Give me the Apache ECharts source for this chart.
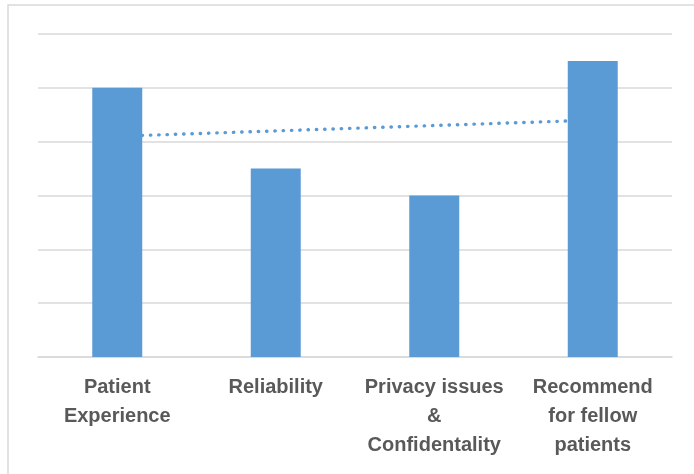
<!DOCTYPE html>
<html>
<head>
<meta charset="utf-8">
<script src="https://cdn.jsdelivr.net/npm/echarts@6/dist/echarts.min.js"></script>
<style>
html,body{margin:0;padding:0;background:#fff;}
#chart{width:694px;height:474px;}
</style>
</head>
<body>
<div id="chart"></div>
<script>
var categories = ['Patient\nExperience', 'Reliability', 'Privacy issues\n&\nConfidentality', 'Recommend\nfor fellow\npatients'];
var values = [5, 3.5, 3, 5.5];
var trendValues = [4.1, 4.2, 4.3, 4.4];

var chart = echarts.init(document.getElementById('chart'), null, {renderer: 'canvas'});
chart.setOption({
  animation: false,
  backgroundColor: '#ffffff',
  graphic: [{
    type: 'rect',
    shape: {x: 8, y: 5, width: 720, height: 500},
    style: {fill: 'none', stroke: '#d9d9d9', lineWidth: 1.5},
    silent: true
  }],
  grid: {left: 38, right: 22, top: 34, bottom: 117, containLabel: false},
  xAxis: {
    type: 'category',
    data: categories,
    axisLine: {show: true, lineStyle: {color: '#d9d9d9', width: 1.5}},
    axisTick: {show: false},
    axisLabel: {
      interval: 0,
      margin: 16,
      color: '#595959',
      fontFamily: 'Liberation Sans',
      fontWeight: 'bold',
      fontSize: 20,
      lineHeight: 29,
      align: 'center'
    }
  },
  yAxis: {
    type: 'value',
    min: 0,
    max: 6,
    interval: 1,
    axisLine: {show: false},
    axisTick: {show: false},
    axisLabel: {show: false},
    splitLine: {show: true, lineStyle: {color: '#d9d9d9', width: 1.5}}
  },
  series: [
    {
      type: 'line',
      data: trendValues,
      z: 1,
      symbol: 'none',
      lineStyle: {color: '#5b9bd5', width: 3.4, type: [0.4, 7.9], cap: 'round'},
      silent: true
    },
    {
      type: 'bar',
      data: values,
      z: 2,
      barWidth: 50,
      itemStyle: {color: '#5b9bd5'}
    }
  ]
});
</script>
</body>
</html>
